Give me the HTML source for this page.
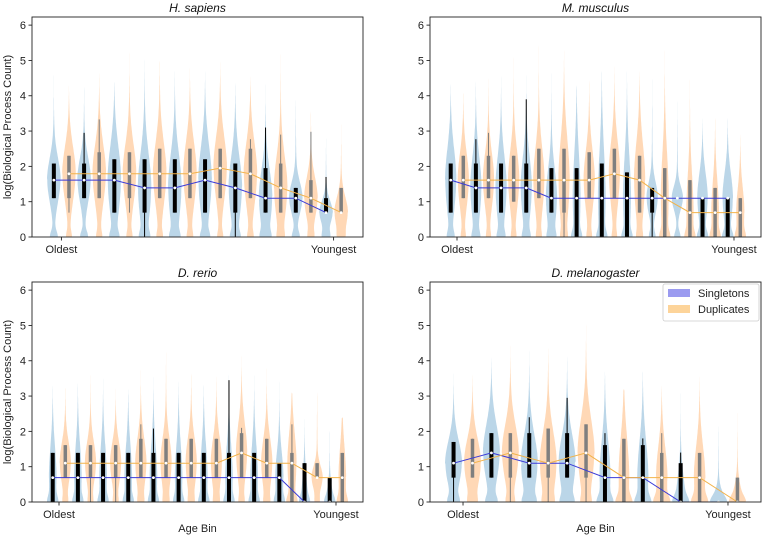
<!DOCTYPE html>
<html><head><meta charset="utf-8"><style>
html,body{margin:0;padding:0;background:#fff;}
svg{display:block;font-family:"Liberation Sans","DejaVu Sans",sans-serif;}
</style></head><body>
<svg id="fig" width="764" height="537" viewBox="0 0 764 537" xmlns="http://www.w3.org/2000/svg"></svg>
<script>
// ---------- data ----------
const yTicks = [0,1,2,3,4,5,6];
const xTickLabels = ["Oldest","Youngest"];
const panelTitles = ["H. sapiens","M. musculus","D. rerio","D. melanogaster"];
const seriesNames = ["Singletons","Duplicates"];

const hs_s_q1  = [1.1,1.1,0.69,0.69,0.69,0.69,0.69,0.69,0.69,0.69];
const hs_s_med = [1.61,1.61,1.61,1.39,1.39,1.61,1.39,1.1,1.1,0.69];
const hs_s_q3  = [2.08,2.08,2.2,2.2,2.2,2.2,2.08,1.95,1.39,1.1];
const hs_s_lo  = [1.1,1.1,0.69,0,0.69,0.69,0,0.69,0.69,0.69];
const hs_s_hi  = [2.08,2.95,2.2,2.2,2.2,2.2,2.08,3.1,1.39,1.7];
const hs_s_max = [4.6,4.6,4.4,5.3,4.9,4.7,4.6,4.4,4.2,2.95];
const hs_d_q1  = [1.1,1.1,1.1,1.1,1.1,1.1,1.1,0.69,0.69,0.69];
const hs_d_med = [1.79,1.79,1.79,1.79,1.79,1.95,1.79,1.39,1.1,0.69];
const hs_d_q3  = [2.3,2.4,2.4,2.5,2.5,2.5,2.5,2.08,1.61,1.39];
const hs_d_lo  = [0.69,1.1,0.69,1.1,1.1,1.1,1.1,0.69,0.69,0.69];
const hs_d_hi  = [2.3,3.33,2.4,2.5,2.5,2.5,2.77,2.9,2.98,1.39];
const hs_d_max = [4.3,4.9,5.3,5.4,4.8,5.1,4.55,5.4,3.9,3.2];

const mm_s_q1  = [0.69,0.69,0.69,0.69,0.69,0,0,0,0.69,1.1,0,0];
const mm_s_med = [1.61,1.39,1.39,1.39,1.1,1.1,1.1,1.1,1.1,1.1,1.1,1.1];
const mm_s_q3  = [2.08,2.08,2.08,2.08,1.95,1.95,2.08,1.83,1.39,1.1,1.1,1.1];
const mm_s_lo  = [0.69,0.69,0.69,0.69,0.69,0,0,0,0,1.1,0,0];
const mm_s_hi  = [2.08,2.77,2.08,3.9,1.95,1.95,2.08,1.83,1.39,1.1,1.1,1.1];
const mm_s_max = [4.4,4.7,4.8,4.6,4.9,4.3,4.7,4.7,4.6,4.0,3.5,3.6];
const mm_d_q1  = [1.1,1.1,1.0,1.1,0.69,1.1,1.1,0.69,0,0,0,0];
const mm_d_med = [1.61,1.61,1.61,1.61,1.61,1.61,1.79,1.61,1.1,0.69,0.69,0.69];
const mm_d_q3  = [2.3,2.3,2.3,2.5,2.5,2.4,2.5,2.3,1.95,1.61,1.39,1.1];
const mm_d_lo  = [1.1,1.1,1.0,1.1,0,1.1,1.1,0.69,0,0,0,0];
const mm_d_hi  = [2.3,2.95,2.3,2.5,2.5,2.4,2.5,2.3,1.95,1.61,1.39,1.1];
const mm_d_max = [4.3,4.8,5.3,5.5,5.3,4.8,5.1,4.7,5.3,4.9,3.6,3.1];

const dr_s_q1  = [0,0,0,0,0,0,0,0,0,0,0,0];
const dr_s_med = [0.69,0.69,0.69,0.69,0.69,0.69,0.69,0.69,0.69,0.69,0,0];
const dr_s_q3  = [1.39,1.39,1.39,1.39,1.39,1.39,1.39,1.39,1.39,1.1,1.1,0.69];
const dr_s_lo  = [0,0,0,0,0,0,0,0,0,0,0,0];
const dr_s_hi  = [1.39,1.39,1.39,1.39,2.08,1.39,1.39,3.45,1.39,1.1,1.1,0.69];
const dr_s_max = [3.3,3.5,3.5,3.2,3.6,3.6,3.5,3.8,3.6,3.6,2.7,2.6];
const dr_d_q1  = [0.69,0.69,0.69,0.69,0.69,0.69,0.69,0.69,0.69,0,0.69,0];
const dr_d_med = [1.1,1.1,1.1,1.1,1.1,1.1,1.1,1.39,1.1,1.1,0.69,0.69];
const dr_d_q3  = [1.61,1.61,1.61,1.79,1.79,1.79,1.79,1.95,1.79,1.39,1.1,1.39];
const dr_d_lo  = [0.69,0,0,0.69,0.69,0.69,0.69,0.69,0.69,0,0.69,0];
const dr_d_hi  = [1.61,1.61,1.61,2.2,1.79,1.79,1.79,2.1,1.79,2.2,1.1,1.39];
const dr_d_max = [3.6,3.9,3.3,3.8,4.6,4.0,3.8,4.2,3.8,3.1,3.5,2.4];

const dm_s_q1  = [0.69,0.69,0.69,0.69,0,0,0,0];
const dm_s_med = [1.1,1.39,1.1,1.1,0.69,0.69,0,0];
const dm_s_q3  = [1.7,1.95,1.95,1.95,1.61,1.61,1.1,0];
const dm_s_lo  = [0,0.69,0.69,0.69,0,0,0,0];
const dm_s_hi  = [1.7,1.95,2.4,2.95,1.95,1.8,1.4,0];
const dm_s_max = [3.7,4.2,4.4,4.4,3.7,3.7,3.3,2.5];
const dm_d_q1  = [0.69,0.69,0.69,0.69,0,0,0,0];
const dm_d_med = [1.1,1.39,1.1,1.39,0.69,0.69,0.69,0];
const dm_d_q3  = [1.79,1.95,2.08,2.2,1.79,1.39,1.39,0.69];
const dm_d_lo  = [0.69,0,0,0,0,0,0,0];
const dm_d_hi  = [1.79,1.95,2.08,2.2,1.79,1.95,1.39,0.69];
const dm_d_max = [3.8,4.5,4.6,5.1,3.2,3.3,3.7,2.7];

// ---------- drawing ----------
const NS = "http://www.w3.org/2000/svg";
const svg = document.getElementById("fig");
function mk(tag, attrs, parent){
  const e = document.createElementNS(NS, tag);
  for (const k in attrs) e.setAttribute(k, attrs[k]);
  (parent||svg).appendChild(e);
  return e;
}
const layouts = [
  {left:32, top:17, w:331, h:220, key:"hs", ylab:true, xlab:false},
  {left:430, top:17, w:331, h:220, key:"mm", ylab:false, xlab:false},
  {left:32, top:282, w:331, h:220, key:"dr", ylab:true, xlab:true},
  {left:430, top:282, w:331, h:220, key:"dm", ylab:false, xlab:true}
];
const DATA = {
  hs:[[hs_s_q1,hs_s_med,hs_s_q3,hs_s_lo,hs_s_hi,hs_s_max],[hs_d_q1,hs_d_med,hs_d_q3,hs_d_lo,hs_d_hi,hs_d_max]],
  mm:[[mm_s_q1,mm_s_med,mm_s_q3,mm_s_lo,mm_s_hi,mm_s_max],[mm_d_q1,mm_d_med,mm_d_q3,mm_d_lo,mm_d_hi,mm_d_max]],
  dr:[[dr_s_q1,dr_s_med,dr_s_q3,dr_s_lo,dr_s_hi,dr_s_max],[dr_d_q1,dr_d_med,dr_d_q3,dr_d_lo,dr_d_hi,dr_d_max]],
  dm:[[dm_s_q1,dm_s_med,dm_s_q3,dm_s_lo,dm_s_hi,dm_s_max],[dm_d_q1,dm_d_med,dm_d_q3,dm_d_lo,dm_d_hi,dm_d_max]]
};
const YMAX = 6.23, HALF = 0.225, OFF = 0.25;
const fillCols = ["#1f77b4","#ff7f0e"];
const boxCols = ["#000000","#7f7f7f"];
const lineCols = ["#3a3ad8","#f2b34a"];

function profile(v, q1, med, q3, mx, series){
  const s = Math.max(0.32, (q3-q1)/1.6);
  let f = Math.exp(-0.5*Math.pow((v-med)/s,2));
  const z = q1===0 ? 0.85 : (series===0 ? 0.55 : 0.35);
  f += z*Math.exp(-0.5*Math.pow(v/0.16,2));
  if (v>med && mx>med) f += 0.13*Math.pow(1-(v-med)/(mx-med),1.4);
  if (v<med) f += 0.08;
  return f;
}

layouts.forEach((L, p) => {
  const set = DATA[L.key];
  const n = set[0][1].length;
  const span = (n-1) + 2*(OFF+HALF);
  const x0 = -(OFF+HALF) - 0.05*span, x1 = (n-1)+(OFF+HALF)+0.05*span;
  const X = v => L.left + (v-x0)/(x1-x0)*L.w;
  const Y = v => L.top + L.h - v/YMAX*L.h;
  const pxBin = L.w/(x1-x0);

  const g = mk("g", {}, svg);
  
  
  const cp = mk("clipPath", {id:"clip"+p}, g);
  mk("rect", {x:L.left, y:L.top, width:L.w, height:L.h}, cp);
  const plot = mk("g", {"clip-path":"url(#clip"+p+")"}, g);

  // violins
  set.forEach((ser, si) => {
    const [q1,med,q3,lo,hi,mx] = ser;
    for (let i=0;i<n;i++){
      const cx = X(i + (si===0?-OFF:OFF));
      const M = mx[i];
      const N = 80, pts = [];
      let fm = 0; const vals=[];
      for (let k=0;k<=N;k++){ const v = M*k/N; const f = k===N?0:profile(v,q1[i],med[i],q3[i],M,si); vals.push([v,f]); fm=Math.max(fm,f); }
      vals.forEach(([v,f]) => pts.push([cx + f/fm*HALF*pxBin, Y(v)]));
      for (let k=vals.length-1;k>=0;k--){ const [v,f]=vals[k]; pts.push([cx - f/fm*HALF*pxBin, Y(v)]); }
      const el = mk("path", {d:"M"+pts.map(q=>q[0].toFixed(1)+","+q[1].toFixed(1)).join("L")+"Z", fill:fillCols[si], "fill-opacity":0.3}, plot);
      
      
    }
  });
  // whiskers and boxes
  set.forEach((ser, si) => {
    const [q1,med,q3,lo,hi,mx] = ser;
    for (let i=0;i<n;i++){
      const cx = X(i + (si===0?-OFF:OFF));
      const wl = mk("line", {x1:cx,x2:cx,y1:Y(lo[i]),y2:Y(hi[i]),stroke:boxCols[si],"stroke-width":1}, plot);
      
      
      const bx = mk("line", {x1:cx,x2:cx,y1:Y(q1[i]),y2:Y(q3[i]),stroke:boxCols[si],"stroke-width":si===0?4:3.5}, plot);
      
      
    }
  });
  // median lines
  set.forEach((ser, si) => {
    const med = ser[1];
    const d = med.map((m,i)=>(i?"L":"M")+X(i+(si===0?-OFF:OFF)).toFixed(1)+","+Y(m).toFixed(1)).join("");
    const ml = mk("path", {d:d, fill:"none", stroke:lineCols[si], "stroke-width":1}, plot);
    
    
  });
  set.forEach((ser, si) => {
    const med = ser[1];
    med.forEach((m,i)=>{
      const c = mk("circle", {cx:X(i+(si===0?-OFF:OFF)), cy:Y(m), r:1.4, fill:"#fff"}, plot);
      
      
    });
  });

  // frame
  const fr = mk("rect", {x:L.left, y:L.top, width:L.w, height:L.h, fill:"none", stroke:"#222", "stroke-width":0.9}, g);
  
  
  // y ticks
  yTicks.forEach(t=>{
    mk("line", {x1:L.left-3.5, x2:L.left, y1:Y(t), y2:Y(t), stroke:"#222","stroke-width":0.9}, g);
    const tx = mk("text", {x:L.left-6, y:Y(t)+4, "text-anchor":"end", "font-size":11, fill:"#222"}, g);
    tx.textContent = t;
    
    
  });
  // x ticks
  [0, n-1].forEach((b,k)=>{
    const xx = X(b);
    mk("line", {x1:xx, x2:xx, y1:L.top+L.h, y2:L.top+L.h+3.5, stroke:"#222","stroke-width":0.9}, g);
    const tx = mk("text", {x:xx, y:L.top+L.h+16, "text-anchor":"middle", "font-size":11, fill:"#222"}, g);
    tx.textContent = xTickLabels[k];
    
    
  });
  // title
  const ti = mk("text", {x:L.left+L.w/2, y:L.top-5, "text-anchor":"middle", "font-size":12, "font-style":"italic", fill:"#111"}, g);
  ti.textContent = panelTitles[p];
  
  
  if (L.ylab){
    const yl = mk("text", {x:0, y:0, transform:"translate(11,"+(L.top+L.h/2)+") rotate(-90)", "text-anchor":"middle", "font-size":11, fill:"#222"}, g);
    yl.textContent = "log(Biological Process Count)";
    
    
  }
  if (L.xlab){
    const xl = mk("text", {x:L.left+L.w/2, y:L.top+L.h+30, "text-anchor":"middle", "font-size":11, fill:"#222"}, g);
    xl.textContent = "Age Bin";
    
    
  }
  // legend
  if (p===3){
    const lg = mk("g", {}, g);
    
    
    mk("rect", {x:663, y:284, width:96, height:37, rx:2, fill:"#fff", "fill-opacity":0.85, stroke:"#ccc", "stroke-width":0.8}, lg);
    const pc = ["#9b9bf0","#fdd49a"];
    seriesNames.forEach((nm,k)=>{
      const e = mk("g", {}, lg);
      
      
      mk("rect", {x:668, y:289+k*16, width:22, height:8, fill:pc[k]}, e);
      const t = mk("text", {x:698, y:297+k*16, "font-size":11, fill:"#222"}, e);
      t.textContent = nm;
    });
  }
});
</script>
</body></html>
